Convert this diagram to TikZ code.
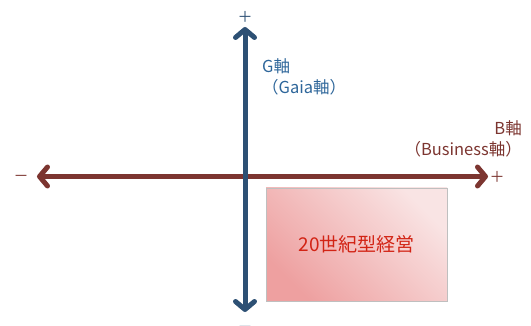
\documentclass[tikz,border=0pt]{standalone}
\usepackage{fontspec}
\usepackage{xcolor}
\setmainfont{Noto Sans CJK JP}
\usetikzlibrary{arrows.meta}
\usetikzlibrary{positioning}

\definecolor{gblue}{RGB}{45,80,116}
\definecolor{gtext}{RGB}{46,102,154}
\definecolor{bbrown}{RGB}{124,53,48}
\definecolor{boxred}{RGB}{210,35,20}
\definecolor{boxdark}{RGB}{238,160,160}
\definecolor{boxlight}{RGB}{249,228,228}

\tikzset{
	axisline/.style={line width=5pt,line cap=round,
		arrows={Straight Barb[length=8pt,width=19pt,line cap=round,line join=round]-Straight Barb[length=8pt,width=19pt,line cap=round,line join=round]}},
	signlabel/.style={inner sep=0pt,font=\fontsize{15}{15}\selectfont},
	axislabel/.style={inner sep=0pt,font=\fontsize{16.5}{18}\selectfont},
	stylebox/.style={draw=black!25,line width=0.8pt,minimum width=181pt,minimum height=113pt,
		left color=boxdark,right color=boxlight,shading angle=135,
		text=boxred,font=\fontsize{19}{19}\selectfont}
}

\begin{document}
\begin{tikzpicture}[x=1pt,y=-1pt]
		%Frame
			\useasboundingbox (0,0) rectangle (531,326);
		%Ends of the axes
			\coordinate (bleft) at (37,176.5);
			\coordinate (bright) at (488,176.5);
			\coordinate (gtop) at (245,27);
			\coordinate (gbottom) at (245,312);
		%Signs
			\node[signlabel,text=gblue] (gplus) at (245,17) {＋};
			\node[signlabel,text=gblue] (gminus) at (245,329) {－};
			\node[signlabel,text=bbrown] (bplus) at (497,177) {＋};
			\node[signlabel,text=bbrown] (bminus) at (21,178) {－};
		%B axis
			\draw[axisline,draw=bbrown] (bleft) -- (bright);
			\node[axislabel,text=bbrown,anchor=east] (blabel) at (522,128) {B軸};
			\node[axislabel,text=bbrown,below=5pt of blabel.south east,anchor=north east] (bname) {（Business軸）};
		%G axis
			\draw[axisline,draw=gblue] (gbottom) -- (gtop);
			\node[axislabel,text=gtext,anchor=west] (glabel) at (262,66) {G軸};
			\node[axislabel,text=gtext,below=5pt of glabel.south west,anchor=north west] (gname) {（Gaia軸）};
		%Quadrant box
			\node[stylebox] (oldstyle) at (356.5,244.5) {20世紀型経営};
	\end{tikzpicture}
\end{document}
